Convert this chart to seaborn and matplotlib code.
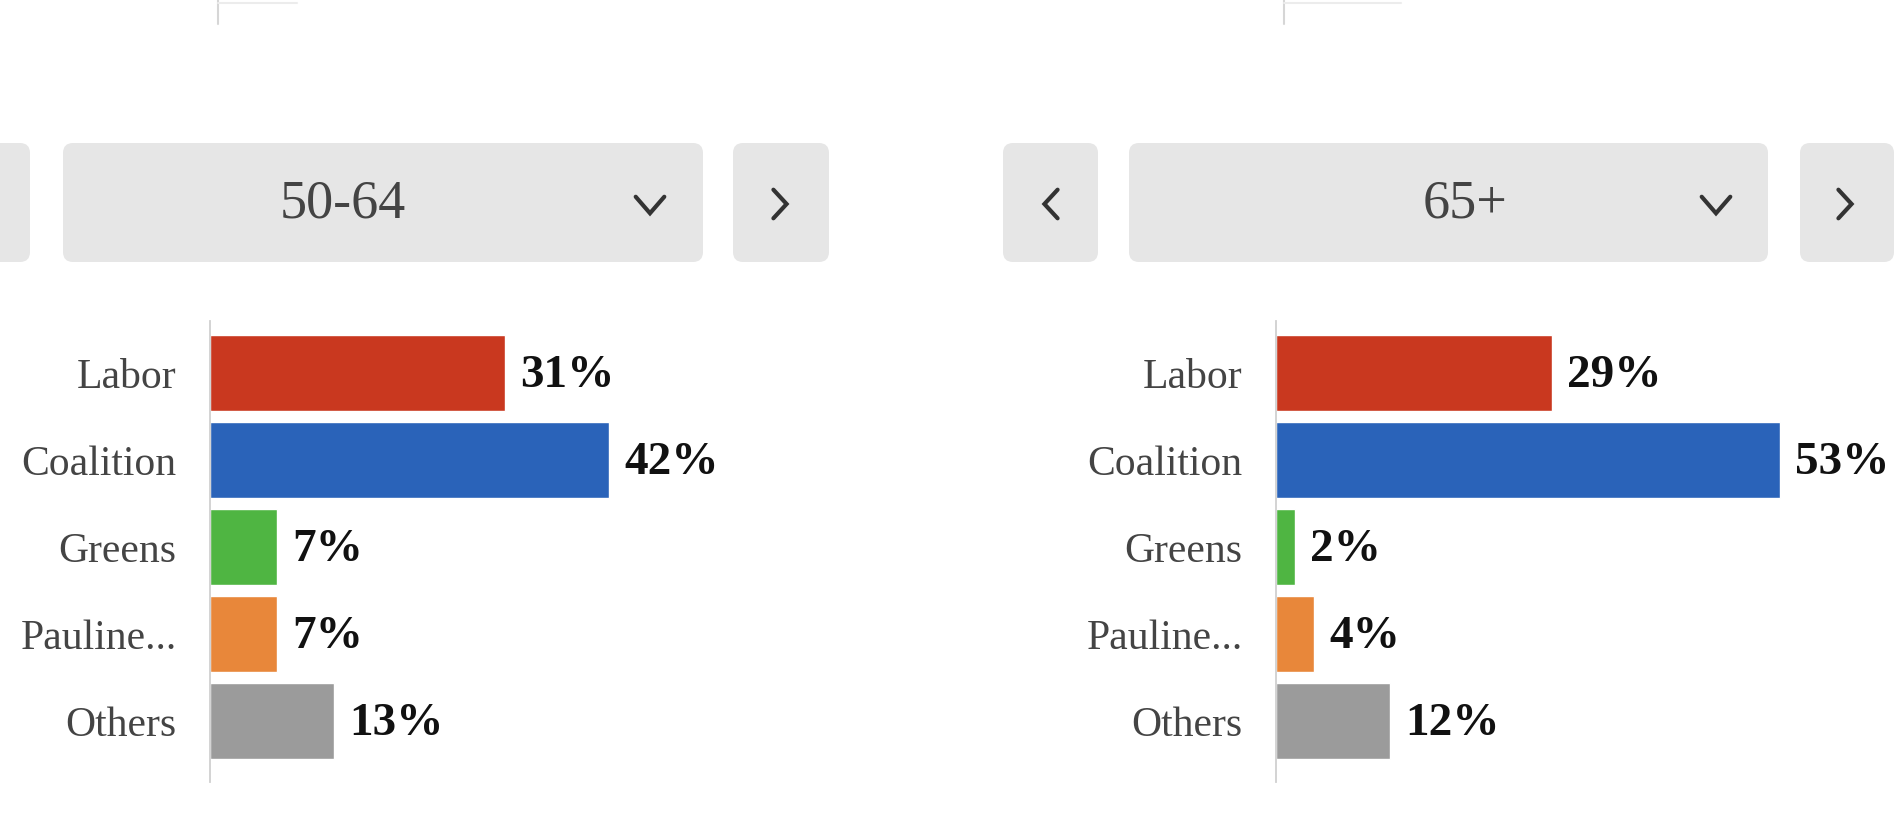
import seaborn as sns
import matplotlib.pyplot as plt
import pandas as pd
from matplotlib.patches import FancyBboxPatch

sns.set_style("white")
plt.rcParams['font.family'] = ['Liberation Serif', 'DejaVu Serif']

parties = ['Labor', 'Coalition', 'Greens', 'Pauline...', 'Others']
share_50_64 = [31, 42, 7, 7, 13]
share_65 = [29, 53, 2, 4, 12]
age_groups = ['50-64', '65+']
party_colors = ['#c9381f', '#2a63b9', '#4fb542', '#e8873a', '#9b9b9b']

palette = dict(zip(parties, party_colors))
W, H = 1900, 815

fig = plt.figure(figsize=(19, 8.15), dpi=100)

# background layer in pixel coords for the dropdown "buttons"
bg = fig.add_axes([0, 0, 1, 1])
bg.set_xlim(0, W)
bg.set_ylim(H, 0)
bg.axis('off')


def button(x0, x1, y0=143, y1=262):
    bg.add_patch(FancyBboxPatch((x0, y0), x1 - x0, y1 - y0,
                                boxstyle="round,pad=0,rounding_size=10",
                                fc='#e6e6e6', ec='none'))


def chevron(cx, cy, kind, s=11):
    if kind == 'down':
        xs, ys = [cx - 1.3 * s, cx, cx + 1.3 * s], [cy - 0.75 * s, cy + 0.75 * s, cy - 0.75 * s]
    elif kind == 'right':
        xs, ys = [cx - 0.6 * s, cx + 0.6 * s, cx - 0.6 * s], [cy - 1.3 * s, cy, cy + 1.3 * s]
    else:
        xs, ys = [cx + 0.6 * s, cx - 0.6 * s, cx + 0.6 * s], [cy - 1.3 * s, cy, cy + 1.3 * s]
    bg.plot(xs, ys, color='#333333', lw=3, solid_capstyle='round', solid_joinstyle='miter')


# left panel controls
button(-20, 30)
button(63, 703)
button(733, 829)
bg.text(343, 204, age_groups[0], ha='center', va='center', fontsize=39, color='#444444')
chevron(650, 205, 'down')
chevron(780, 204, 'right')

# right panel controls
button(1003, 1098)
button(1129, 1768)
button(1800, 1894)
bg.text(1465, 204, age_groups[1], ha='center', va='center', fontsize=39, color='#444444')
chevron(1051, 204, 'left')
chevron(1716, 205, 'down')
chevron(1845, 204, 'right')

# remnants of the chart above
bg.plot([218, 218], [0, 24], color='#d6d6d6', lw=1.5)
bg.plot([218, 297], [3, 3], color='#ececec', lw=1.5)
bg.plot([1284, 1284], [0, 24], color='#d6d6d6', lw=1.5)
bg.plot([1284, 1401], [3, 3], color='#ececec', lw=1.5)


def panel(x_px, values):
    ax = fig.add_axes([x_px / W, 1 - 782 / H, 570 / W, 461 / H])
    df = pd.DataFrame({'party': parties, 'share': values})
    sns.barplot(data=df, x='share', y='party', hue='party', palette=palette,
                order=parties, hue_order=parties, orient='h', width=0.875,
                legend=False, ax=ax, saturation=1)
    ax.set_xlim(0, 60)
    ax.set_ylim(4.7, -0.6)
    ax.set_xlabel('')
    ax.set_ylabel('')
    ax.set_xticks([])
    ax.tick_params(axis='y', length=0, pad=24, labelsize=30, labelcolor='#444444')
    for s in ['top', 'right', 'bottom']:
        ax.spines[s].set_visible(False)
    ax.spines['left'].set_color('#d0d0d0')
    ax.spines['left'].set_linewidth(1.3)
    ax.patch.set_alpha(0)
    for i, v in enumerate(values):
        ax.annotate(f'{v}%', (v, i), xytext=(11, -2), textcoords='offset points',
                    ha='left', va='center', fontsize=34, fontweight='bold',
                    color='#111111')
    return ax


panel(210, share_50_64)
panel(1276, share_65)

fig.savefig('out.png', dpi=100)
